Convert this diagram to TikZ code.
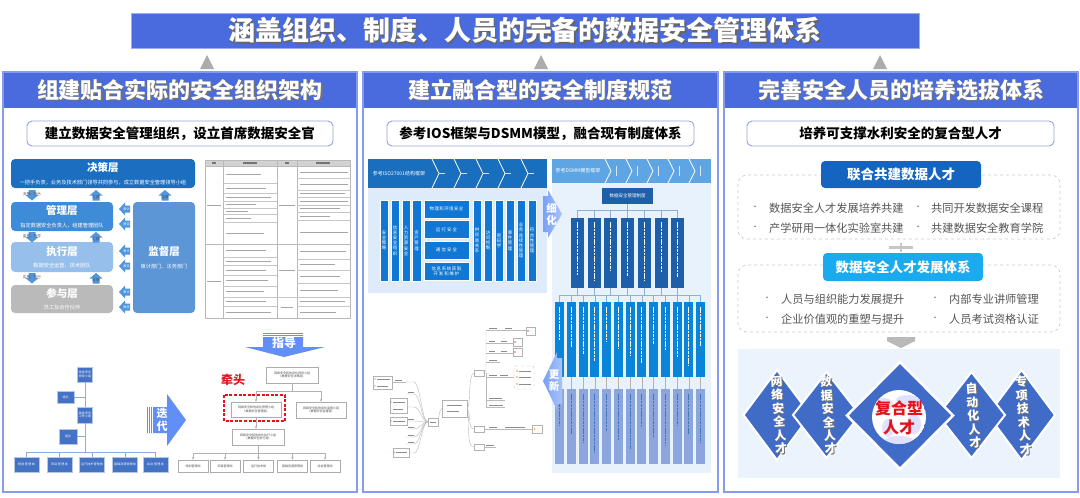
\documentclass[tikz,border=0pt]{standalone}
\usepackage{fontspec}
\setmainfont{Noto Sans CJK SC}
\usetikzlibrary{arrows.meta,calc}
\XeTeXlinebreaklocale "zh"
\XeTeXlinebreakskip=0pt plus 1pt
\newcommand\fsz[2]{\fontsize{#1}{#2}\selectfont}
\definecolor{hblue}{RGB}{74,107,222}
\definecolor{pborder}{RGB}{135,155,238}
\definecolor{subb}{RGB}{150,162,218}
\definecolor{lay1}{RGB}{27,110,192}
\definecolor{lay2}{RGB}{62,140,215}
\definecolor{lay3}{RGB}{150,192,235}
\definecolor{lay4}{RGB}{186,186,186}
\definecolor{laysup}{RGB}{92,150,215}
\definecolor{arrb}{RGB}{80,150,220}
\definecolor{orgblue}{RGB}{68,114,196}
\definecolor{orgline}{RGB}{143,170,220}
\definecolor{bigarr}{RGB}{98,143,245}
\definecolor{isohead}{RGB}{25,110,190}
\definecolor{isobg}{RGB}{222,235,250}
\definecolor{isobar}{RGB}{16,120,212}
\definecolor{dsmmhead}{RGB}{95,165,228}
\definecolor{dsmmbg}{RGB}{232,242,252}
\definecolor{dsmmdark}{RGB}{30,95,170}
\definecolor{dsmmbar}{RGB}{10,132,216}
\definecolor{dsmmgray}{RGB}{140,165,220}
\definecolor{tal1}{RGB}{21,101,192}
\definecolor{tal2}{RGB}{25,170,240}
\definecolor{dia}{RGB}{64,108,200}
\definecolor{lightbg}{RGB}{235,243,252}
\definecolor{redt}{RGB}{225,20,30}
\definecolor{tgray}{RGB}{85,85,85}
\begin{document}
\begin{tikzpicture}[x=1pt,y=-1pt,
  panel/.style={draw=pborder,line width=1.5pt},
  subbox/.style={draw=subb,line width=0.9pt,rounded corners=5pt,fill=white,inner sep=0pt},
  htxt/.style={font=\fsz{22}{24}\bfseries,text=white},
  hsh/.style={font=\fsz{22}{24}\bfseries,text=black!55},
  lay/.style={rounded corners=4pt,text=white,align=center,inner sep=0pt},
  obox/.style={fill=orgblue,draw=white!60!orgblue,line width=0.4pt,text=white,align=center,font=\fsz{3}{3.6},inner sep=0.5pt},
  gbox/.style={draw=gray!65,line width=0.8pt,fill=white,align=center,font=\fsz{3}{3.8},text=black!70,inner sep=0pt},
  oline/.style={draw=orgline,line width=0.6pt},
  gline/.style={draw=gray!60,line width=0.6pt},
  tip/.style={-{Stealth[length=2.6pt,width=2.6pt]}},
  isov/.style={fill=isobar,draw=white,line width=0.5pt,inner sep=0pt,text=white,font=\fsz{4.4}{5.2},text width=4.6pt,align=center},
  isow/.style={fill=isobar,draw=white,line width=0.5pt,inner sep=0pt,text=white,font=\fsz{4.4}{5.2},text width=42pt,align=center,minimum width=45,minimum height=18},
  mm/.style={draw=gray!55,line width=0.4pt},
  mmb/.style={draw=gray!60,line width=0.5pt,fill=white,inner sep=0pt},
  mmt/.style={draw=black!45,line width=0.9pt},
  bul/.style={font=\fsz{11.2}{13},text=tgray,anchor=west,inner sep=0pt},
  dot/.style={font=\fsz{7}{8},text=tgray,inner sep=0pt},
  talbox/.style={rounded corners=4pt,text=white,font=\fsz{13.5}{15}\bfseries,inner sep=0pt},
  dashbox/.style={draw=gray!40,dashed,line width=0.7pt,rounded corners=9pt},
  dtxt/.style={font=\fsz{12}{13.5}\bfseries,text=white,align=center,rotate=4},
  dsh/.style={font=\fsz{12}{13.5}\bfseries,text=black!55,align=center,rotate=4}
]
\useasboundingbox (0,0) rectangle (1080,498);
\fill[white] (0,0) rectangle (1080,498);

% ================= banner =================
\node[fill=hblue,draw=hblue!55!white,line width=1pt,minimum width=788,minimum height=35,inner sep=0] (banner) at (525,30.5) {};
\node[font=\fsz{27}{29}\bfseries,text=black!60] (bannerS) at (526.4,31.9) {涵盖组织、制度、人员的完备的数据安全管理体系};
\node[font=\fsz{27}{29}\bfseries,text=white] (bannerT) at (525,30.5) {涵盖组织、制度、人员的完备的数据安全管理体系};
\foreach \x in {207,541,880} \fill[gray!65] (\x,55) -- ({\x+7},69) -- ({\x-7},69) -- cycle;

% ================= panels =================
\foreach \a/\b in {3/357,363/718,724/1078}{
  \fill[white] (\a,72) rectangle (\b,492);
  \fill[hblue] (\a,72) rectangle (\b,108);
  \draw[panel] (\a,72) rectangle (\b,492);
}
\node[hsh] (h1S) at (181.2,91.2) {组建贴合实际的安全组织架构};
\node[htxt] (h1) at (180,90) {组建贴合实际的安全组织架构};
\node[hsh] (h2S) at (541.7,91.2) {建立融合型的安全制度规范};
\node[htxt] (h2) at (540.5,90) {建立融合型的安全制度规范};
\node[hsh] (h3S) at (902.2,91.2) {完善安全人员的培养选拔体系};
\node[htxt] (h3) at (901,90) {完善安全人员的培养选拔体系};

% subtitles
\node[subbox,minimum width=306,minimum height=25,font=\fsz{13.5}{15}\bfseries] (s1) at (180,133.5) {建立数据安全管理组织，设立首席数据安全官};
\node[subbox,minimum width=307,minimum height=25,font=\fsz{13.5}{15}\bfseries] (s2) at (540.5,133.5) {参考IOS框架与DSMM模型，融合现有制度体系};
\node[subbox,minimum width=307,minimum height=25,font=\fsz{13.5}{15}\bfseries] (s3) at (900.5,133.5) {培养可支撑水利安全的复合型人才};

% ================= LEFT: layers =================
\node[lay,fill=lay1,minimum width=184,minimum height=29] (L1) at (103,173.5) {{\fsz{10.5}{12}\bfseries 决策层}\\[0.5pt]{\fsz{5.2}{6}一把手负责，业务及技术部门领导共同参与，成立数据安全管理领导小组}};
\node[lay,fill=lay2,minimum width=102,minimum height=29] (L2) at (62,216.5) {{\fsz{10.5}{12}\bfseries 管理层}\\[0.5pt]{\fsz{5.2}{6}指定数据安全负责人，组建管理团队}};
\node[lay,fill=lay3,minimum width=102,minimum height=30] (L3) at (62,257) {{\fsz{10.5}{12}\bfseries 执行层}\\[0.5pt]{\fsz{5.2}{6}数据安全运营、技术团队}};
\node[lay,fill=lay4,minimum width=102,minimum height=28] (L4) at (62,299) {{\fsz{10.5}{12}\bfseries 参与层}\\[0.5pt]{\fsz{5.2}{6}员工及合作伙伴}};
\node[lay,fill=laysup,minimum width=62,minimum height=111] (Ls) at (164,257.5) {{\fsz{10.5}{12}\bfseries 监督层}\\[0.5pt]{\fsz{5.2}{6}审计部门、法务部门}};
% small block arrows
\foreach \x/\y/\t in {32/190/决策、指示,32/232/监督、指导,32/273/实施、执行}{
  \fill[arrb] ({\x-3.5},\y) -- ({\x+3.5},\y) -- ({\x+3.5},{\y+5}) -- ({\x+6.5},{\y+5}) -- (\x,{\y+10.5}) -- ({\x-6.5},{\y+5}) -- ({\x-3.5},{\y+5}) -- cycle;
  \node[font=\fsz{3.6}{4},text=black!70,inner sep=0] at (\x,{\y+4}) {\t};
}
\foreach \x/\y/\t in {96/190/汇报,96/232/汇报,96/273/反馈,165/190/监督}{
  \fill[arrb] ({\x-3.5},{\y+10.5}) -- ({\x+3.5},{\y+10.5}) -- ({\x+3.5},{\y+5.5}) -- ({\x+6.5},{\y+5.5}) -- (\x,\y) -- ({\x-6.5},{\y+5.5}) -- ({\x-3.5},{\y+5.5}) -- cycle;
  \node[font=\fsz{3.6}{4},text=black!70,inner sep=0] at (\x,{\y+7}) {\t};
}
\foreach \y/\t in {209/审计,224/报告,251/审计,266/报告,292/审计,307/报告}{
  \fill[arrb] (130,{\y-3.5}) -- (130,{\y+3.5}) -- (125,{\y+3.5}) -- (125,{\y+6.5}) -- (119,\y) -- (125,{\y-6.5}) -- (125,{\y-3.5}) -- cycle;
  \node[font=\fsz{3.2}{3.6},text=white,inner sep=0,align=center] at (126.5,\y) {\t};
}

% ================= LEFT: table screenshot =================
\fill[gray!35] (205,160) rectangle (350,166);
\draw[gray!55,line width=0.5pt] (205,160) rectangle (350,318);
\draw[gray!55,line width=0.4pt] (223,160)--(223,318) (277,160)--(277,318) (297,160)--(297,318) (205,166)--(350,166) (205,244)--(350,244);
\foreach \y in {183,193,201,208,214,222,257,265,275,286,297,306} \draw[gray!45,line width=0.3pt] (223,\y)--(277,\y);
\foreach \y in {178,190,197,205,212,220,259,270,283,297,306} \draw[gray!45,line width=0.3pt] (297,\y)--(350,\y);
\draw[gray!45,line width=0.3pt] (277,297)--(297,297);
\foreach \x/\w in {214/4,250/14,287/4,323/14} \draw[black!55,line width=1.3pt] ({\x-\w/2},163)--({\x+\w/2},163);
\foreach \y/\l in {174.5/35,188/40,197/45,204.5/30,211/22,218/25,233/38,250.5/40,261/45,270/40,280.5/42,291.5/38,301.5/40,312/45}
  \draw[gray!70,line width=0.8pt] (226,\y)--({226+\l},\y);
\foreach \y/\l in {172/48,184/48,193.5/45,201/48,208.5/40,216/30,232/48,251.5/46,264.5/35,276.5/40,290/38,301.5/45,312/36}
  \draw[gray!70,line width=0.8pt] (300,\y)--({300+\l},\y);
\draw[gray!70,line width=0.8pt] (207,205)--(221,205) (207,281)--(221,281) (279,205)--(295,205) (279,270)--(295,270) (281,307)--(293,307);

% ================= LEFT: old org chart =================
\node[obox,minimum width=15,minimum height=15,text width=13] (lg1) at (85,374.5) {信息安全领导小组};
\node[obox,minimum width=17,minimum height=12] (lz1) at (65.5,397) {组长};
\node[obox,minimum width=15,minimum height=16,text width=13] (lg2) at (85,415) {信息安全工作小组};
\node[obox,minimum width=18,minimum height=15] (lz2) at (68,436.5) {组长};
\foreach \i/\x/\t in {1/26.5/规划管理岗,2/59.5/项目管理岗,3/92/运行技术管理岗,4/125/基础资源管理岗,5/155.5/综合管理岗}
  \node[obox,minimum width=25,minimum height=15,text width=23] (lb\i) at (\x,464.5) {\t};
\draw[oline] (lg1.south) -- (lg2.north);
\draw[oline] (lz1.east) -- (lz1.east -| lg1.south);
\draw[oline] (lz2.east) -- (lz2.east -| lg1.south);
\draw[oline] (lg2.south) -- (85,452);
\draw[oline] (26.5,452) -- (155.5,452);
\foreach \i in {1,...,5} \draw[oline] (lb\i.north |- 0,452) -- (lb\i.north);

% 迭代 arrow
\fill[bigarr] (147,407) -- (167,407) -- (167,394) -- (186,420) -- (167,446) -- (167,433) -- (147,433) -- cycle;
\draw[white,line width=0.6pt] (148.6,407)--(148.6,433) (150.6,407)--(150.6,433) (152.6,407)--(152.6,433);
\node[font=\fsz{11}{12.5}\bfseries,text=white,align=center,inner sep=0] (diedai) at (162,420) {迭\\代};

% 指导 arrow
\fill[bigarr] (263,333) -- (303,333) -- (303,347) -- (325,347) -- (284,357) -- (245,347) -- (263,347) -- cycle;
\draw[white,line width=0.5pt] (263,334.4)--(303,334.4) (263,336.2)--(303,336.2);
\node[font=\fsz{12}{13}\bfseries,text=white,inner sep=0] (zhidao) at (284,343) {指导};

% new org chart
\node[gbox,minimum width=52,minimum height=16] (r1) at (292,375) {网络安全和信息化领导小组\\(数据安全决策层)};
\node[font=\fsz{12}{13}\bfseries,text=redt,inner sep=0] (qiantou) at (233,380) {牵头};
\draw[redt,line width=1.1pt,dash pattern=on 3pt off 1.6pt] (224,395) rectangle (285,421);
\node[gbox,minimum width=50,minimum height=15] (r2) at (256,409.5) {网络安全和信息化管理小组\\(数据安全管理层)};
\node[gbox,minimum width=50,minimum height=16] (r3) at (321,410) {网络安全和信息化监督小组\\(数据安全监督层)};
\node[gbox,minimum width=52,minimum height=16] (r4) at (258,437) {网络安全和信息化执行小组\\(数据安全执行层)};
\foreach \i/\x/\t in {1/193/规划管理岗,2/225/项目管理岗,3/258.5/运行技术岗,4/292.5/基础资源管理岗,5/325/综合管理岗}
  \node[gbox,minimum width=30,minimum height=12] (rb\i) at (\x,466) {\t};
\draw[gline] (r1.south) -- (292,391);
\draw[gline] (256,391) -- (321,391);
\draw[gline,tip] (256,391) -- (r2.north);
\draw[gline,tip] (321,391) -- (r3.north);
\draw[gline,tip] (r2.south) -- (r2.south |- r4.north);
\draw[gline] (r4.south) -- (258,453);
\draw[gline] (193,453) -- (325,453);
\foreach \i in {1,...,5} \draw[gline,tip] (rb\i.north |- 0,453) -- (rb\i.north);

% ================= MIDDLE: ISO block =================
\fill[isobg] (368,159) rectangle (547,293);
\fill[isohead] (368,159) rectangle (547,188);
\node[font=\fsz{5}{6},text=white,inner sep=0] (isoLab) at (399,173.5) {参考ISO27001结构框架};
\foreach \x in {432,454,476,498,521} \draw[white,line width=0.8pt] (\x,159) -- ({\x+7},173.5) -- (\x,188);
\foreach \x in {442,464,486,508,531} \draw[white!80!isohead,line width=1pt] ({\x-3},173.5) -- ({\x+3},173.5);
\foreach \i/\x/\t in {1/384/安全策略,2/395/信息安全组织,3/406/人力资源安全,4/416.5/资产管理,5/477/供应商关系,6/488/访问控制,7/499/密码学,8/510/事件管理,9/521/业务连续性管理,10/532/符合性管理}
  \node[isov,minimum width=8.5,minimum height=81] (iv\i) at (\x,240.5) {\t};
\node[isow] (iw1) at (446.5,209) {物理和环境安全};
\node[isow] (iw2) at (446.5,229.5) {运行安全};
\node[isow] (iw3) at (446.5,250) {通信安全};
\node[isow] (iw4) at (446.5,271) {信息系统获取开发和维护};

% ================= MIDDLE: DSMM block =================
\fill[dsmmbg] (552,159) rectangle (711,473);
\fill[dsmmhead] (552,159) rectangle (711,183);
\node[font=\fsz{5}{6},text=white,inner sep=0] (dsLab) at (578,171) {参考DSMM模型框架};
\foreach \x in {605,626,647,668,689} \draw[white,line width=0.8pt] (\x,159) -- ({\x+6},171) -- (\x,183);
\foreach \x in {616,637,658,679,700} \draw[white!75!dsmmhead,line width=0.9pt] (\x,166) -- (\x,176);
\node[fill=dsmmdark,minimum width=51,minimum height=16,inner sep=0,text=white,font=\fsz{4.5}{5}] (dsTop) at (627.5,196) {数据安全管理制度};
\draw[dsmmdark!50,line width=0.5pt] (dsTop.south) -- (627.5,210);
\draw[dsmmdark!50,line width=0.5pt] (577.5,210) -- (677.5,210);
\foreach \i/\x in {1/577.5,2/594.5,3/610.5,4/627.5,5/644.5,6/661,7/677.5}{
  \node[fill=dsmmdark,minimum width=13,minimum height=70,inner sep=0] (dk\i) at (\x,253) {};
  \draw[dsmmdark!50,line width=0.5pt] (\x,210) -- (dk\i.north);
  \draw[white,line width=0.9pt,dash pattern=on 2.6pt off 0.8pt] (\x,222) -- (\x,{270+mod(\i*5,14)});
  \draw[dsmmdark!50,line width=0.5pt] (dk\i.south) -- (\x,295);
}
\draw[dsmmdark!50,line width=0.5pt] (559.5,295) -- (700.5,295);
\foreach \i in {0,...,12}{
  \pgfmathsetmacro\bx{559.5+11.75*\i}
  \node[fill=dsmmbar,minimum width=9,minimum height=75,inner sep=0] (du\i) at (\bx,339.5) {};
  \node[fill=dsmmgray,minimum width=9,minimum height=75,inner sep=0] (dl\i) at (\bx,426.5) {};
  \draw[dsmmdark!50,line width=0.5pt] (\bx,295) -- (du\i.north);
  \draw[gray!60,line width=0.4pt] (du\i.south) -- (dl\i.north);
  \draw[white,line width=0.9pt,dash pattern=on 2.6pt off 0.8pt] (\bx,307) -- (\bx,{340+mod(\i*7,26)});
  \draw[dsmmdark!85,line width=0.9pt,dash pattern=on 2.6pt off 0.8pt] (\bx,394) -- (\bx,{425+mod(\i*9,30)});
}

% 细化 arrow
\shade[left color=bigarr!85,right color=bigarr!55!white] (543,196) -- (548,196) -- (548,190) -- (562,214) -- (548,238) -- (548,232) -- (543,232) -- cycle;
\node[font=\fsz{10.5}{12}\bfseries,text=white,align=center,inner sep=0] (xihua) at (551.5,214) {细\\化};

% 更新 arrow
\shade[left color=bigarr!85,right color=bigarr!55!white] (562,358) -- (557,358) -- (557,352) -- (543,381) -- (557,410) -- (557,404) -- (562,404) -- cycle;
\node[font=\fsz{10.5}{12}\bfseries,text=white,align=center,inner sep=0] (gengxin) at (554,381) {更\\新};

% ================= MIDDLE: mind map =================
\node[mmb,minimum width=25,minimum height=17,line width=0.8pt] (mmC) at (454.5,408.5) {};
\draw[mmt] (447,405)--(462,405) (447,411)--(459,411);
\node[mmb,minimum width=10,minimum height=8] (mmH) at (433,422) {};
\draw[mmt,line width=0.6pt] (430,422)--(436,422);
\draw[mm] (mmH.east) .. controls (439,421) and (438,412) .. (mmC.west);
\node[mmb,minimum width=10,minimum height=6] (mmR1) at (479,373) {};
\node[mmb,minimum width=10,minimum height=6] (mmR2) at (479,429) {};
\node[mmb,minimum width=10,minimum height=6] (mmR3) at (479,447) {};
\draw[mm] (mmC.east) .. controls (471,404) and (468,375) .. (mmR1.west);
\draw[mm] (mmC.east) .. controls (471,414) and (468,429) .. (mmR2.west);
\draw[mm] (mmC.east) .. controls (470,420) and (466,447) .. (mmR3.west);
\draw[mm,rounded corners=3pt] (mmR1.east) -- (486,373) -- (486,332);
\draw[mm,rounded corners=3pt] (486,373) -- (486,407);
\foreach \y/\e in {330/526,343/513,353/513,362/500,377/514,400/505,407/505} \draw[mm] (486,\y) -- (\e,\y);
\foreach \y/\a/\b in {330/489/497,343/489/495,353/489/495,362/489/497,377/489/497,400/489/502,407/489/503} \draw[mmt,line width=0.7pt] (\a,{\y-1.5}) -- (\b,{\y-1.5});
\draw[mmt,line width=0.7pt] (505,328.5)--(512,328.5) (501,341.5)--(507,341.5) (501,351.5)--(507,351.5) (500,375.5)--(508,375.5);
\node[mmb,minimum width=9,minimum height=8] (mmL1) at (530.5,331) {};
\node[mmb,minimum width=9,minimum height=8] (mmL2) at (517.5,342) {};
\node[mmb,minimum width=9,minimum height=8] (mmL3) at (517.5,352) {};
\fill[red!70] (528,331) circle (0.9) (515,342) circle (0.9) (515,352) circle (0.9);
\draw[gray!50,dashed,line width=0.4pt,rounded corners=1.5pt] (514,366) rectangle (534,389);
\foreach \y in {371,377,384} {\fill[orange!80] (517,\y) circle (0.8); \draw[mmt,line width=0.6pt] (519,\y) -- (531,\y);}
\draw[mm] (mmR2.east) -- (532,429);
\draw[mmt,line width=0.7pt] (489,427.5)--(497,427.5) (505,427.5)--(525,427.5);
\node[mmb,minimum width=10,minimum height=8] (mmL4) at (537,429) {};
\fill[orange!80] (534.5,429) circle (0.9);
\draw[mm] (mmR3.east) -- (496,447);
\draw[mmt,line width=0.7pt] (486,445.5)--(494,445.5);
\foreach \y in {382,394,407,421,429,437,444,453}
  \draw[mm] (mmH.west) .. controls (422,422) and (420,\y) .. (414,\y) -- (406,\y);
\foreach \y in {394,421,429,437,444} \draw[mmt,line width=0.6pt] (408,{\y-1.5}) -- (414,{\y-1.5});
\draw[mm] (406,382) -- (392,382);
\draw[mmt,line width=0.6pt] (395,380.5)--(402,380.5);
\node[mmb,minimum width=19,minimum height=13] (mmE1) at (382.5,382.5) {};
\node[mmb,minimum width=17,minimum height=15] (mmE2) at (398.5,405.5) {};
\node[mmb,minimum width=17,minimum height=8] (mmE3) at (398.5,421) {};
\node[mmb,minimum width=16,minimum height=9] (mmE4) at (401,452.5) {};
\draw[mmt,line width=0.6pt] (377,379)--(390,379) (377,386)--(388,386) (393,402)--(405,402) (393,409)--(403,409) (393,421)--(405,421) (396,452.5)--(407,452.5);
\fill[blue!60] (375,379) circle (0.7) (375,386) circle (0.7) (391,402) circle (0.7) (391,421) circle (0.7) (394,452.5) circle (0.7);

% ================= RIGHT panel =================
\draw[dashbox] (738,175) rectangle (1060,239);
\draw[dashbox] (738,265) rectangle (1060,332);
\node[talbox,fill=tal1,minimum width=160,minimum height=27] (t1) at (901,174.5) {联合共建数据人才};
\node[talbox,fill=tal2,minimum width=160,minimum height=28] (t2) at (903,267) {数据安全人才发展体系};
\draw[gray!45,line width=3pt] (t1.south |- 0,247) ++(-12,0) -- ++(24,0);
\draw[gray!45,line width=1.4pt] (901,242.5) -- (901,251.5);
\node[dot] (b1) at (755,208) {•};
\node[bul] (p1) at (769,208) {数据安全人才发展培养共建};
\node[dot] (b2) at (918,208) {•};
\node[bul] (p2) at (931,208) {共同开发数据安全课程};
\node[dot] (b3) at (755,228) {•};
\node[bul] (p3) at (769,228) {产学研用一体化实验室共建};
\node[dot] (b4) at (918,228) {•};
\node[bul] (p4) at (931,228) {共建数据安全教育学院};
\node[dot] (b5) at (767,299) {•};
\node[bul] (p5) at (781,299) {人员与组织能力发展提升};
\node[dot] (b6) at (935,299) {•};
\node[bul] (p6) at (949,299) {内部专业讲师管理};
\node[dot] (b7) at (767,319) {•};
\node[bul] (p7) at (781,319) {企业价值观的重塑与提升};
\node[dot] (b8) at (935,319) {•};
\node[bul] (p8) at (949,319) {人员考试资格认证};
\fill[gray!55] (887,337) -- (915,337) -- (915,341) -- (901,348) -- (887,341) -- cycle;
\fill[lightbg] (738,349) rectangle (1060,478);

% diamonds
\foreach \cx/\hh in {777/45,1021.5/45,826.5/43,971.5/43}
  \draw[fill=dia,draw=white,line width=2pt] ({\cx-33.5},415) -- (\cx,{415-\hh}) -- ({\cx+33.5},415) -- (\cx,{415+\hh}) -- cycle;
\draw[fill=dia,draw=white,line width=2.5pt] (847,415.5) -- (900,362) -- (953,415.5) -- (900,469) -- cycle;
\node[dsh] (d1S) at (779.8,416.3) {网\\络\\安\\全\\人\\才};
\node[dtxt] (d1) at (778.8,415.3) {网\\络\\安\\全\\人\\才};
\node[dsh] (d2S) at (829.3,416.3) {数\\据\\安\\全\\人\\才};
\node[dtxt] (d2) at (828.3,415.3) {数\\据\\安\\全\\人\\才};
\node[dsh] (d4S) at (974.3,416.8) {自\\动\\化\\人\\才};
\node[dtxt] (d4) at (973.3,415.8) {自\\动\\化\\人\\才};
\node[dsh] (d5S) at (1024.3,416.3) {专\\项\\技\\术\\人\\才};
\node[dtxt] (d5) at (1023.3,415.3) {专\\项\\技\\术\\人\\才};
% globe
\begin{scope}
  \clip (899,417) circle (27);
  \fill[white] (899,417) circle (27);
  \fill[blue!12] (884,404) ellipse (9 and 6) (908,400) ellipse (12 and 5) (914,424) ellipse (7 and 10) (888,428) ellipse (6 and 9) (899,440) ellipse (14 and 4);
\end{scope}
\node[font=\fsz{16}{19.5}\bfseries,text=redt,align=center,inner sep=0] (fuhe) at (899,418) {复合型\\人才};
\end{tikzpicture}
\end{document}
